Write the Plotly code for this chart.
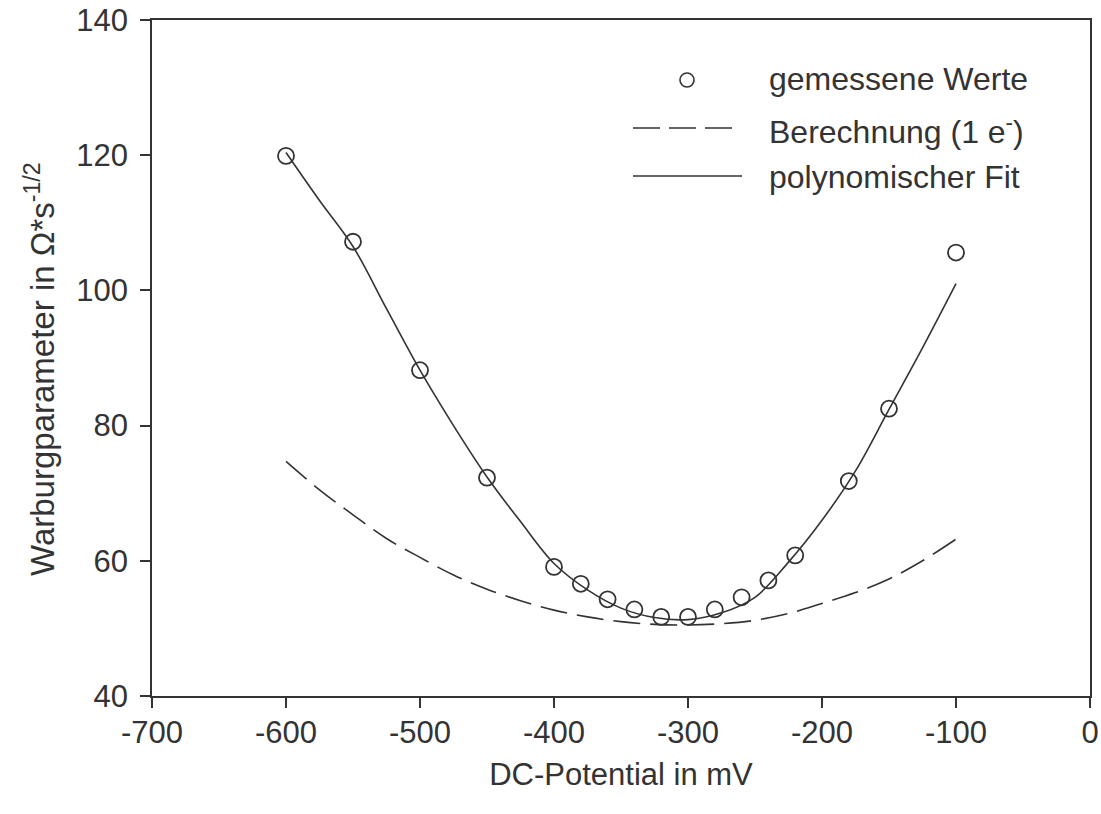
import plotly.graph_objects as go

# Measured Warburg parameter vs. DC potential
potential_mv = [-600, -550, -500, -450, -400, -380, -360, -340, -320, -300,
                -280, -260, -240, -220, -180, -150, -100]
warburg_measured = [119.9, 107.2, 88.2, 72.3, 59.1, 56.6, 54.3, 52.8, 51.7, 51.7,
                    52.8, 54.6, 57.1, 60.8, 71.8, 82.5, 105.6]

# Calculated curve for a one-electron transfer
calc_potential = [-600, -575, -550, -525, -500, -475, -450, -425, -400, -375, -350,
                  -325, -300, -275, -250, -225, -200, -175, -150, -125, -100]
calc_values = [74.7, 70.5, 66.8, 63.3, 60.5, 57.9, 55.8, 54.1, 52.7, 51.7, 51.0,
               50.6, 50.5, 50.7, 51.2, 52.2, 53.7, 55.3, 57.3, 60.0, 63.2]

# Polynomial fit through the measured values
fit_potential = [-600, -575, -550, -525, -500, -475, -450, -425, -400, -375, -350,
                 -325, -300, -275, -250, -225, -200, -175, -150, -125, -100]
fit_values = [120.4, 113.3, 106.5, 97.3, 88.2, 80.0, 72.4, 65.8, 59.6, 55.7, 53.0,
              51.6, 51.3, 52.3, 54.6, 59.8, 66.0, 73.3, 82.4, 91.5, 101.0]

x_ticks = [-700, -600, -500, -400, -300, -200, -100, 0]
x_tick_text = ["-700", "-600", "-500", "-400", "-300", "-200", "-100", "0"]
y_ticks = [40, 60, 80, 100, 120, 140]
y_tick_text = ["40", "60", "80", "100", "120", "140"]

legend_labels = ["gemessene Werte", "Berechnung (1 e<sup>-</sup>)", "polynomischer Fit"]
x_title = "DC-Potential in mV"
y_title = "Warburgparameter in Ω*s<sup>-1/2</sup>"

INK = "#333333"
FONT = "Liberation Sans, Arial, Helvetica, sans-serif"
FS = 31

fig = go.Figure()

fig.add_trace(go.Scatter(
    x=calc_potential, y=calc_values, mode="lines", line_shape="spline",
    line=dict(color=INK, width=1.6, dash="27px,10px"), showlegend=False,
))
fig.add_trace(go.Scatter(
    x=fit_potential, y=fit_values, mode="lines", line_shape="spline",
    line=dict(color=INK, width=1.6), showlegend=False,
))
fig.add_trace(go.Scatter(
    x=potential_mv, y=warburg_measured, mode="markers",
    marker=dict(symbol="circle-open", size=16, color=INK, line=dict(width=1.8, color=INK)),
    showlegend=False,
))

# Hand-built legend (long line samples)
L, R, T, B = 152.0, 1090.0, 20.0, 696.0


def px(xp):
    return (xp - L) / (R - L)


def py(yp):
    return (B - yp) / (B - T)


shapes = [
    dict(type="circle", xref="paper", yref="paper",
         x0=px(680), x1=px(694), y0=py(87), y1=py(73),
         line=dict(color=INK, width=1.6)),
    dict(type="line", xref="paper", yref="paper",
         x0=px(633), x1=px(733), y0=py(128), y1=py(128),
         line=dict(color=INK, width=1.6, dash="27px,9px")),
    dict(type="line", xref="paper", yref="paper",
         x0=px(633), x1=px(742), y0=py(176), y1=py(176),
         line=dict(color=INK, width=1.6)),
]

label_y = [79, 130, 177]
annotations = [
    dict(text=txt, xref="paper", yref="paper", x=px(767), y=py(yy),
         xanchor="left", yanchor="middle", showarrow=False,
         font=dict(family=FONT, size=32, color=INK))
    for txt, yy in zip(legend_labels, label_y)
]
# rotated y-axis title
annotations.append(dict(
    text=y_title, xref="paper", yref="paper", x=px(40), y=py(369),
    xanchor="center", yanchor="middle", textangle=-90, showarrow=False,
    font=dict(family=FONT, size=33, color=INK),
))

axis_common = dict(
    showline=True, linecolor=INK, linewidth=1.5, mirror=True,
    ticks="outside", ticklen=10, tickwidth=1.5, tickcolor=INK,
    showgrid=False, zeroline=False, automargin=False,
    tickfont=dict(family=FONT, size=FS, color=INK),
)

fig.update_layout(
    width=1101, height=814,
    margin=dict(l=152, r=11, t=20, b=118, autoexpand=False),
    paper_bgcolor="white", plot_bgcolor="white",
    font=dict(family=FONT, size=FS, color=INK),
    shapes=shapes, annotations=annotations,
    xaxis=dict(range=[-700, 0], tickvals=x_ticks, ticktext=x_tick_text,
               ticklabelstandoff=-2,
               title=dict(text=x_title, standoff=14,
                          font=dict(family=FONT, size=FS, color=INK)),
               **axis_common),
    yaxis=dict(range=[40, 140], tickvals=y_ticks, ticktext=y_tick_text,
               ticklabelstandoff=6, **axis_common),
)

fig.write_html("out.html")
